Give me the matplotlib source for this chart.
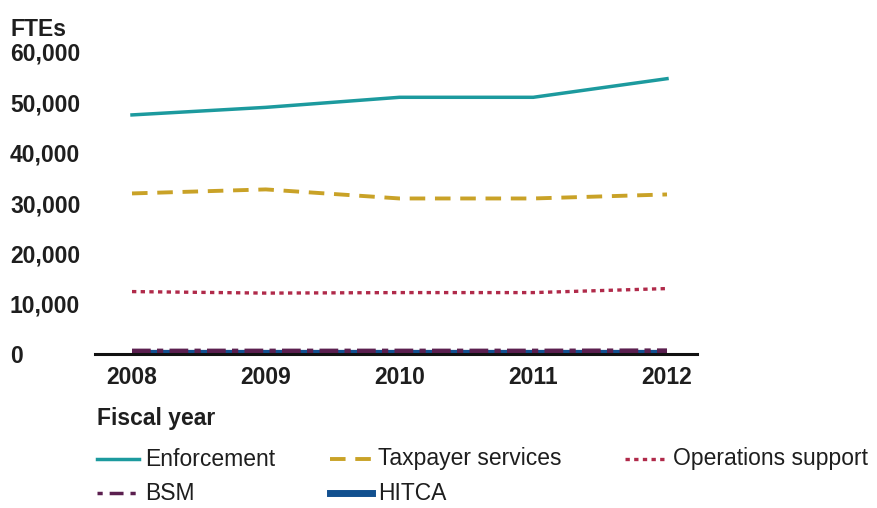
import matplotlib
matplotlib.use("Agg")
import matplotlib.pyplot as plt
from matplotlib.lines import Line2D

years = [2008, 2009, 2010, 2011, 2012]
enforcement = [47500, 49000, 51000, 51000, 54700]
taxpayer = [31900, 32700, 30900, 30900, 31700]
ops_support = [12400, 12100, 12200, 12200, 13000]
bsm = [450, 450, 450, 450, 500]
hitca = [150, 150, 150, 150, 150]
yticks = [0, 10000, 20000, 30000, 40000, 50000, 60000]
ytick_labels = ["0", "10,000", "20,000", "30,000", "40,000", "50,000", "60,000"]

plt.rcParams['font.family'] = ['Liberation Sans', 'DejaVu Sans']

W, H = 878, 508
fig = plt.figure(figsize=(W/100, H/100), dpi=100)
left, right, top, bottom = 95, 697, 52, 354
ax = fig.add_axes([left/W, 1-bottom/H, (right-left)/W, (bottom-top)/H])

c_enf = '#1c9a9e'
c_tax = '#c9a227'
c_ops = '#b02a4a'
c_bsm = '#5b1f4f'
c_hit = '#12508f'

ax.plot(years, hitca, color=c_hit, lw=4.5, solid_capstyle='butt')
ax.plot(years, bsm, color=c_bsm, lw=4.5, dashes=(3, 1, 1, 1), dash_capstyle='butt')
ax.plot(years, ops_support, color=c_ops, lw=2.4, dashes=(1.3, 1.3))
ax.plot(years, taxpayer, color=c_tax, lw=2.8, dashes=(4, 2.5))
ax.plot(years, enforcement, color=c_enf, lw=2.5)

ax.set_xlim(2008 - 37/133.75, 2012 + 30/133.75)
ax.set_ylim(0, 60000)
for s in ['left', 'right', 'top']:
    ax.spines[s].set_visible(False)
ax.spines['bottom'].set_linewidth(2.2)
ax.spines['bottom'].set_color('#111111')

ax.set_xticks(years)
ax.set_xticklabels([str(y) for y in years], fontsize=16.5, fontweight='bold', color='#1e1e1e')
ax.tick_params(axis='x', length=0, pad=9)
ax.set_yticks(yticks)
ax.set_yticklabels(ytick_labels, fontsize=16.5, fontweight='bold', color='#1e1e1e')
ax.tick_params(axis='y', length=0, pad=(left-10)*0.72)
for lab in ax.get_yticklabels():
    lab.set_horizontalalignment('left')

fig.text(10/W, 1-30/H, "FTEs", fontsize=16.5, fontweight='bold', color='#1e1e1e', va='center', ha='left')
fig.text(97/W, 1-419/H, "Fiscal year", fontsize=16.5, fontweight='bold', color='#1e1e1e', va='center', ha='left')

handles = [
    Line2D([], [], color=c_enf, lw=2.5),
    Line2D([], [], color=c_tax, lw=2.8, dashes=(4, 2.5)),
    Line2D([], [], color=c_ops, lw=2.4, dashes=(1.3, 1.3)),
    Line2D([], [], color=c_bsm, lw=2.5, dashes=(2, 2, 5, 2)),
    Line2D([], [], color=c_hit, lw=5),
]
labels = ["Enforcement", "Taxpayer services", "Operations support", "BSM", "HITCA"]
pos = [(97, 459), (330, 459), (625, 459), (97, 493), (330, 493)]
for h, lab, (x, y) in zip(handles, labels, pos):
    fx = x / W
    fy = 1 - y / H
    l = Line2D([fx, fx + 42/W], [fy, fy], color=h.get_color(), lw=h.get_linewidth(),
               transform=fig.transFigure)
    if lab == "Taxpayer services":
        l.set_dashes((4, 2.5))
    elif lab == "Operations support":
        l.set_dashes((1.3, 1.3))
    elif lab == "BSM":
        l.set_dashes((1.5, 2, 4, 2))
    fig.add_artist(l)
    fig.text(fx + 48/W, fy, lab, fontsize=16.5, color='#1e1e1e', va='center', ha='left')

fig.savefig("out.png", dpi=100)
